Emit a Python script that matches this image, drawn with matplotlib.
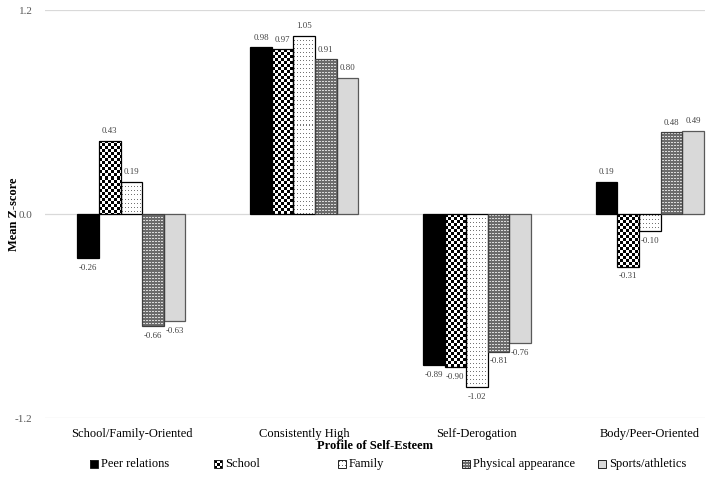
import numpy as np
import matplotlib.pyplot as plt
from matplotlib.patches import Rectangle

plt.rcParams['font.family'] = ['Liberation Serif', 'DejaVu Serif']

# chart data
profiles = ["School/Family-Oriented", "Consistently High", "Self-Derogation", "Body/Peer-Oriented"]
domains = ["Peer relations", "School", "Family", "Physical appearance", "Sports/athletics"]
peer = [-0.26, 0.98, -0.89, 0.19]
school = [0.43, 0.97, -0.90, -0.31]
family = [0.19, 1.05, -1.02, -0.10]
physical = [-0.66, 0.91, -0.81, 0.48]
sports = [-0.63, 0.80, -0.76, 0.49]
y_ticks = [-1.2, 0.0, 1.2]

series = [peer, school, family, physical, sports]


def pattern_solid(level):
    return lambda h, w: np.full((h, w), level)


def pattern_checker(h, w):
    yy, xx = np.indices((h, w))
    return ((yy // 3 + xx // 3) % 2).astype(float)


def pattern_family(h, w):
    yy, xx = np.indices((h, w))
    arr = np.ones((h, w))
    arr[(yy % 4 == 1) & (xx % 3 == 1)] = 0.45
    return arr


def pattern_physical(h, w):
    yy, xx = np.indices((h, w))
    arr = np.full((h, w), 0.42)
    arr[(yy % 3 == 1) & (xx % 3 != 0)] = 0.85
    return arr


styles = [
    dict(face='black', edge='black', pattern=None, legend=pattern_solid(0.0)),
    dict(face='white', edge='black', pattern=pattern_checker, legend=pattern_checker),
    dict(face='white', edge='black', pattern=pattern_family, legend=pattern_family),
    dict(face='#6b6b6b', edge='#404040', pattern=pattern_physical, legend=pattern_physical),
    dict(face='#d9d9d9', edge='#595959', pattern=None, legend=pattern_solid(0.85)),
]

W, H = 708, 483
fig = plt.figure(figsize=(W / 100, H / 100), dpi=100)
ax = fig.add_axes([45 / W, 1 - 418 / H, 660 / W, 408 / H])

x = np.arange(len(profiles))
width = 0.125
xlim = (-0.5, 3.32)
ylim = (-1.2, 1.2)
ax.set_xlim(*xlim)
ax.set_ylim(*ylim)

all_bars = []
for i, (vals, st) in enumerate(zip(series, styles)):
    bars = ax.bar(x + (i - 2) * width, vals, width, color=st['face'],
                  edgecolor=st['edge'], linewidth=0.9, label=domains[i],
                  zorder=3, clip_on=False)
    all_bars.append((bars, st))
    for b, v in zip(bars, vals):
        off = 4 if v >= 0 else -4
        ax.annotate(f"{v:.2f}", (b.get_x() + b.get_width() / 2, v),
                    xytext=(0, off), textcoords='offset points',
                    ha='center', va='bottom' if v >= 0 else 'top',
                    fontsize=6.3, color='#404040', zorder=5)

# fill patterned bars with pixel textures clipped to the bar
for bars, st in all_bars:
    if st['pattern'] is None:
        continue
    for b in bars:
        x0, x1 = b.get_x(), b.get_x() + b.get_width()
        y0, y1 = sorted([b.get_y(), b.get_y() + b.get_height()])
        p0 = ax.transData.transform((x0, y0))
        p1 = ax.transData.transform((x1, y1))
        w = max(int(round(abs(p1[0] - p0[0]))), 1)
        h = max(int(round(abs(p1[1] - p0[1]))), 1)
        img = st['pattern'](h, w)
        im = ax.imshow(img, extent=[x0, x1, y0, y1], cmap='gray', vmin=0, vmax=1,
                       interpolation='nearest', aspect='auto', zorder=3.5)
        im.set_clip_path(b)
        b.set_zorder(4)
        b.set_facecolor('none')

ax.set_xlim(*xlim)
ax.set_ylim(*ylim)

ax.set_yticks(y_ticks)
ax.set_yticklabels([f"{t:.1f}" for t in y_ticks])
ax.yaxis.grid(True, color='#d9d9d9', linewidth=0.9, zorder=0)
ax.set_axisbelow(True)
ax.tick_params(axis='y', length=0, pad=9, labelsize=8, labelcolor='#595959')
ax.set_xticks(x)
ax.set_xticklabels(profiles)
ax.tick_params(axis='x', length=0, pad=7, labelsize=9)
for s in ax.spines.values():
    s.set_visible(False)

ax.set_ylabel("Mean Z-score", fontsize=9, fontweight='bold')
ax.yaxis.set_label_coords(-0.038, 0.5)
ax.set_xlabel("Profile of Self-Esteem", fontsize=9, fontweight='bold', labelpad=0)

# legend drawn by hand so the markers can carry the pixel patterns
leg_x = [90, 214, 338, 462, 598]
leg_y = 464
msize = 8
for lx, name, st in zip(leg_x, domains, styles):
    img = st['legend'](msize, msize)
    fig.figimage(img, xo=lx, yo=H - leg_y - msize // 2, cmap='gray',
                 vmin=0, vmax=1, origin='upper', zorder=3)
    fig.add_artist(Rectangle((lx / W, (H - leg_y - msize // 2) / H), msize / W, msize / H,
                             transform=fig.transFigure, fill=False,
                             edgecolor='#222222', linewidth=0.7, zorder=4))
    fig.text((lx + msize + 3) / W, 1 - leg_y / H, name, fontsize=9,
             ha='left', va='center')

fig.savefig("out.png", dpi=100)
